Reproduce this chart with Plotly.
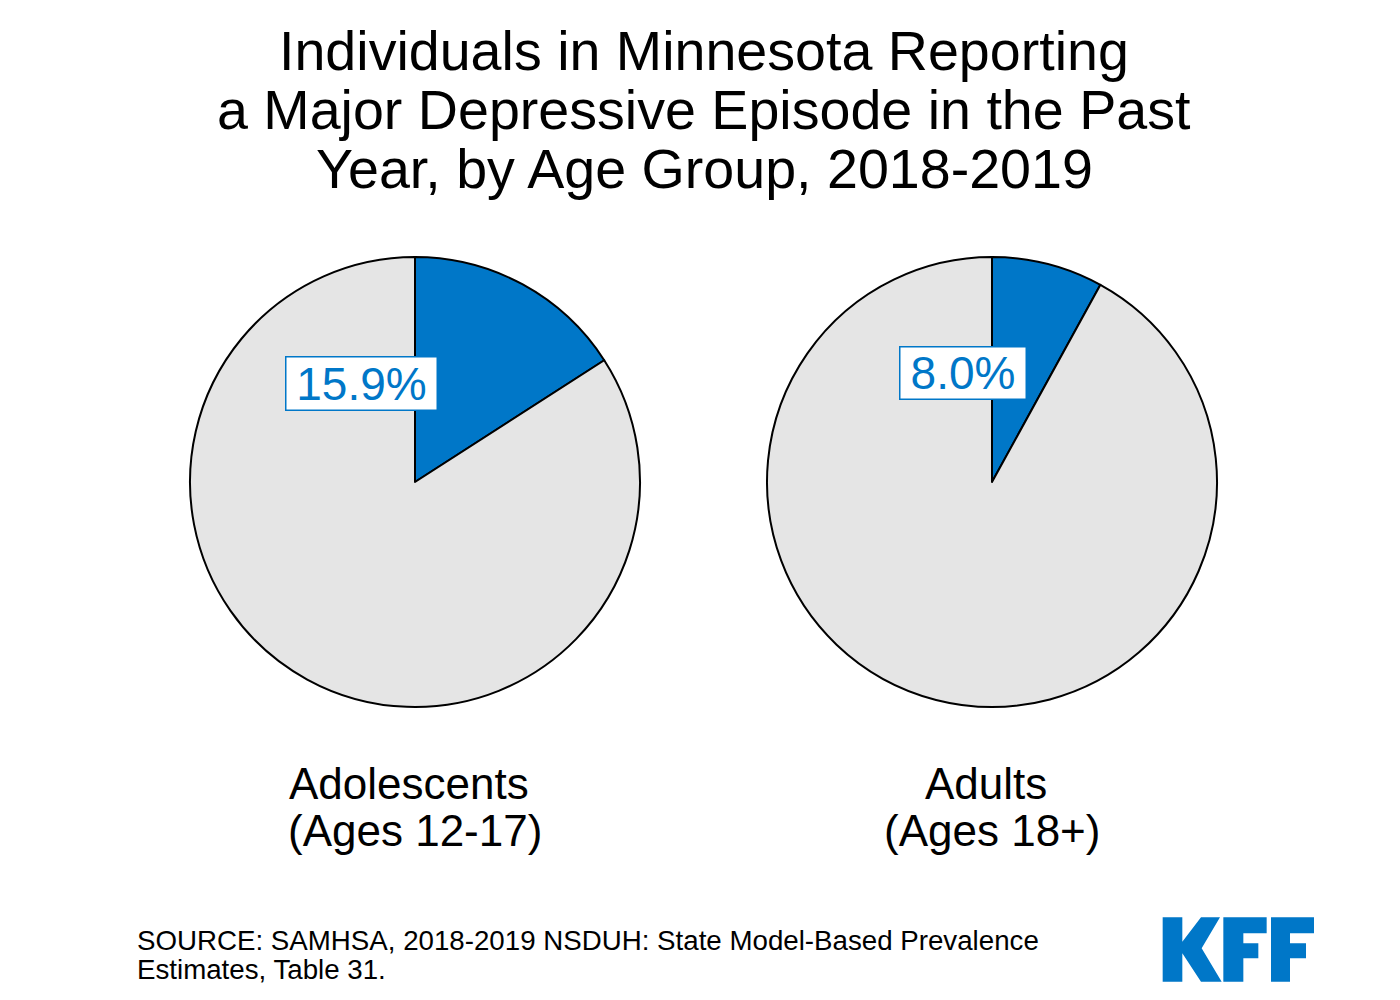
import plotly.graph_objects as go

# data
groups = ["Adolescents<br>(Ages 12-17)", "Adults<br>(Ages 18+)"]
mde_pct = [15.9, 8.0]
pct_labels = ["15.9%", "8.0%"]

title_lines = [
    "Individuals in Minnesota Reporting",
    "a Major Depressive Episode in the Past",
    "Year, by Age Group, 2018-2019",
]
source_lines = [
    "SOURCE: SAMHSA, 2018-2019 NSDUH: State Model-Based Prevalence",
    "Estimates, Table 31.",
]

W, H = 1400, 1000
BLUE = "#0077C8"
GRAY = "#E5E5E5"
FONT = "Liberation Sans, Arial, sans-serif"


def px(x):
    return x / W


def py(y):
    return 1 - y / H


fig = go.Figure()

# pie placement (pixel centres), radius 225
centres = [(415, 482), (992, 482)]
r = 225
label_pos = [(361, 383), (963, 373)]
label_box = [(150, 52), (125, 51)]
group_pos = [412, 989]

for i, pct in enumerate(mde_pct):
    cx, cy = centres[i]
    fig.add_trace(go.Pie(
        values=[pct, 100 - pct],
        labels=["Reported MDE", "No MDE"],
        marker=dict(colors=[BLUE, GRAY], line=dict(color="black", width=2)),
        sort=False,
        direction="clockwise",
        rotation=0,
        textinfo="none",
        hoverinfo="label+value",
        domain=dict(x=[px(cx - r), px(cx + r)], y=[py(cy + r), py(cy - r)]),
        showlegend=False,
    ))
    fig.add_annotation(
        x=px(label_pos[i][0]), y=py(label_pos[i][1]), xref="paper", yref="paper",
        text=pct_labels[i], showarrow=False, xanchor="center", yanchor="middle",
        width=label_box[i][0], height=label_box[i][1],
        font=dict(family=FONT, size=46, color=BLUE),
        bgcolor="white", bordercolor=BLUE, borderwidth=1.5, borderpad=0,
    )
    for j, line in enumerate(groups[i].split("<br>")):
        fig.add_annotation(
            x=px(group_pos[i] - 3 + 6 * j), y=py(783 + 47 * j), xref="paper", yref="paper",
            text=line, showarrow=False, xanchor="center", yanchor="middle",
            font=dict(family=FONT, size=44, color="black"),
        )

# title, one annotation per line to keep the tight spacing
for j, line in enumerate(title_lines):
    fig.add_annotation(
        x=px(704), y=py(51 + 59 * j), xref="paper", yref="paper",
        text=line, showarrow=False, xanchor="center", yanchor="middle",
        font=dict(family=FONT, size=55.6, color="black"),
    )

for j, line in enumerate(source_lines):
    fig.add_annotation(
        x=px(135), y=py(940 + 29 * j), xref="paper", yref="paper",
        text=line, showarrow=False, xanchor="left", yanchor="middle",
        font=dict(family=FONT, size=27.7, color="black"),
    )

# KFF logo drawn as paths (coords measured in a 3x crop at 1140,900)
logo_polys = [
    [(68, 52), (127, 52), (127, 125), (183, 52), (240, 52), (185, 145), (245, 245),
     (183, 245), (127, 160), (127, 245), (68, 245)],
    [(250, 52), (380, 52), (380, 100), (310, 100), (310, 130), (355, 130), (355, 175),
     (310, 175), (310, 245), (250, 245)],
    [(393, 52), (522, 52), (522, 100), (450, 100), (450, 130), (498, 130), (498, 175),
     (450, 175), (450, 245), (393, 245)],
]
for poly in logo_polys:
    pts = [(px(1140 + a / 3), py(900 + b / 3)) for a, b in poly]
    path = "M " + " L ".join(f"{a:.5f},{b:.5f}" for a, b in pts) + " Z"
    fig.add_shape(type="path", path=path, xref="paper", yref="paper",
                  fillcolor=BLUE, line=dict(width=0))

fig.update_layout(
    width=W, height=H,
    margin=dict(l=0, r=0, t=0, b=0),
    paper_bgcolor="white",
    plot_bgcolor="white",
    font=dict(family=FONT),
)

# drop the default page margin so the figure sits at the window corner
fig.write_html("out.html", config={"displayModeBar": False},
               post_script="document.body.style.margin='0';")
